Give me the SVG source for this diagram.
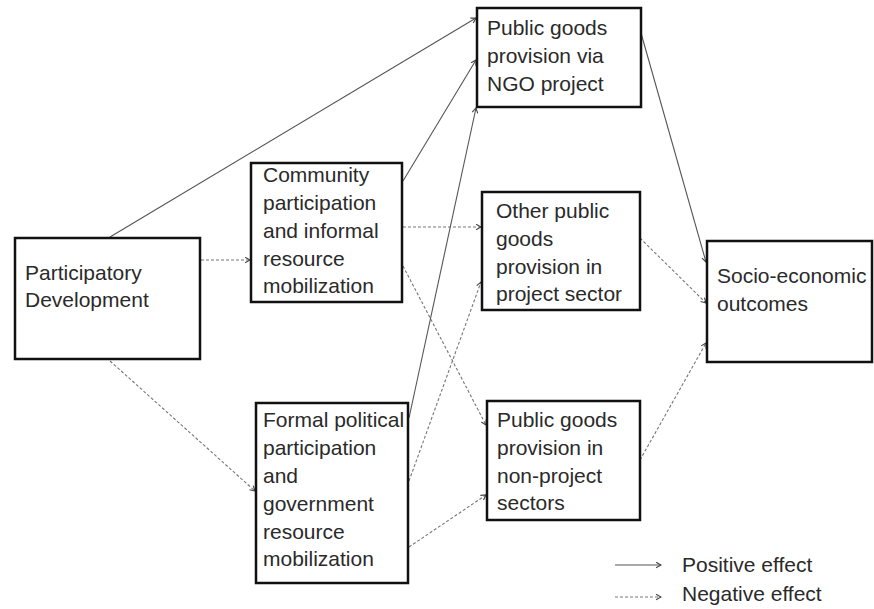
<svg xmlns="http://www.w3.org/2000/svg" width="874" height="609" viewBox="0 0 874 609">
<style>
.box{fill:#fff;stroke:#111;stroke-width:2.5}
.t{font-family:"Liberation Sans",Arial,sans-serif;font-size:21px;fill:#2a2a2a}
.pos{fill:none;stroke:#555;stroke-width:1.1;marker-end:url(#ah)}
.neg{fill:none;stroke:#777;stroke-width:1.1;stroke-dasharray:3 2;marker-end:url(#ah)}
</style>
<defs>
<marker id="ah" viewBox="0 0 10 10" refX="9" refY="5" markerWidth="7" markerHeight="7" markerUnits="userSpaceOnUse" orient="auto">
<polyline points="2,1 9,5 2,9" fill="none" stroke="#444" stroke-width="1.6"/>
</marker>
</defs>
<rect width="874" height="609" fill="#fff"/>
<g id="connectors">
<line class="pos" x1="110" y1="237" x2="476" y2="18"/>
<line class="neg" x1="201" y1="260" x2="250" y2="260"/>
<line class="neg" x1="110" y1="361" x2="255" y2="491"/>
<line class="pos" x1="403" y1="181" x2="476" y2="60"/>
<line class="neg" x1="403" y1="227" x2="481" y2="227"/>
<line class="neg" x1="403" y1="266" x2="486" y2="425"/>
<line class="pos" x1="409" y1="418" x2="476" y2="108"/>
<line class="neg" x1="409" y1="481" x2="481" y2="282"/>
<line class="neg" x1="409" y1="547" x2="486" y2="495"/>
<line class="pos" x1="641" y1="33" x2="706" y2="262"/>
<line class="neg" x1="640" y1="238" x2="706" y2="303"/>
<line class="neg" x1="640" y1="460" x2="706" y2="343"/>
</g>
<g id="n-participatory">
<rect class="box" x="15" y="238" width="185" height="121"/>
<text class="t" x="25" y="280">Participatory</text>
<text class="t" x="25" y="307">Development</text>
</g>
<g id="n-community">
<rect class="box" x="251" y="163" width="151" height="139"/>
<text class="t" x="263" y="182">Community</text>
<text class="t" x="263" y="210">participation</text>
<text class="t" x="263" y="238">and informal</text>
<text class="t" x="263" y="266">resource</text>
<text class="t" x="263" y="293">mobilization</text>
</g>
<g id="n-formal">
<rect class="box" x="256" y="403" width="152" height="180"/>
<text class="t" x="263" y="427">Formal political</text>
<text class="t" x="263" y="455">participation</text>
<text class="t" x="263" y="483">and</text>
<text class="t" x="263" y="511">government</text>
<text class="t" x="263" y="539">resource</text>
<text class="t" x="263" y="566">mobilization</text>
</g>
<g id="n-ngo">
<rect class="box" x="477" y="8" width="164" height="99"/>
<text class="t" x="487" y="35">Public goods</text>
<text class="t" x="487" y="63">provision via</text>
<text class="t" x="487" y="91">NGO project</text>
</g>
<g id="n-other">
<rect class="box" x="482" y="192" width="158" height="118"/>
<text class="t" x="496" y="218">Other public</text>
<text class="t" x="496" y="246">goods</text>
<text class="t" x="496" y="274">provision in</text>
<text class="t" x="496" y="301">project sector</text>
</g>
<g id="n-nonproject">
<rect class="box" x="487" y="401" width="153" height="119"/>
<text class="t" x="497" y="427">Public goods</text>
<text class="t" x="497" y="455">provision in</text>
<text class="t" x="497" y="483">non-project</text>
<text class="t" x="497" y="510">sectors</text>
</g>
<g id="n-socio">
<rect class="box" x="707" y="241" width="165" height="121"/>
<text class="t" x="717" y="283">Socio-economic</text>
<text class="t" x="717" y="311">outcomes</text>
</g>
<g id="legend">
<line class="pos" x1="615" y1="565" x2="661" y2="565"/>
<text class="t" x="682" y="572">Positive effect</text>
<line class="neg" x1="615" y1="597" x2="661" y2="597"/>
<text class="t" x="682" y="601">Negative effect</text>
</g>
</svg>
